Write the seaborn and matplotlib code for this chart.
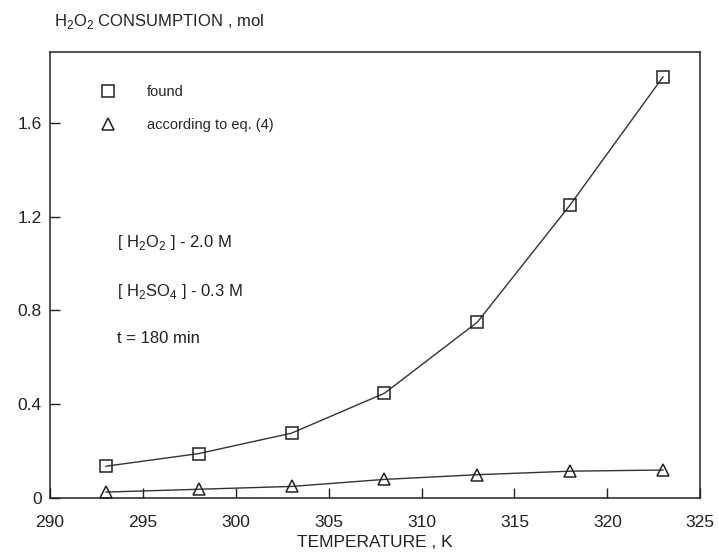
import numpy as np
import pandas as pd
import matplotlib
matplotlib.use("Agg")
import matplotlib.pyplot as plt
import seaborn as sns

# ── Data ─────────────────────────────────────────────────────────────────────
temperature = [293, 298, 303, 308, 313, 318, 323]
found       = [0.136, 0.19, 0.277, 0.447, 0.75, 1.25, 1.796]
eq4         = [0.026, 0.038, 0.05, 0.08, 0.10, 0.115, 0.12]
x_ticks     = [290, 295, 300, 305, 310, 315, 320, 325]
y_ticks     = [0, 0.4, 0.8, 1.2, 1.6]
y_ticklabels = ["0", "0.4", "0.8", "1.2", "1.6"]

df = pd.DataFrame({
    "T": temperature * 2,
    "val": found + eq4,
    "series": ["found"] * len(found) + ["according to eq. (4)"] * len(eq4),
})

sns.set_style("ticks")
plt.rcParams["font.family"] = ["Liberation Sans", "DejaVu Sans"]
plt.rcParams["mathtext.fontset"] = "custom"
plt.rcParams["mathtext.rm"] = "Liberation Sans"

fig = plt.figure(figsize=(7.19, 5.56), dpi=100)
ax = fig.add_axes([0.0695, 0.104, 0.9045, 0.802])

sns.lineplot(data=df, x="T", y="val", hue="series", style="series",
             markers={"found": "s", "according to eq. (4)": "^"},
             dashes=False, palette={"found": "#333333", "according to eq. (4)": "#333333"},
             markersize=9, markerfacecolor="none", markeredgecolor="#222222",
             markeredgewidth=1.1, linewidth=1.0, ax=ax)

ax.set_xlim(290, 325)
ax.set_ylim(0, 1.9)
ax.set_xticks(x_ticks)
ax.set_yticks(y_ticks)
ax.set_yticklabels(y_ticklabels)
ax.tick_params(direction="in", length=7, width=1, labelsize=12.5, colors="#222222")
ax.tick_params(axis="x", pad=12)
ax.tick_params(axis="y", pad=6)
for s in ax.spines.values():
    s.set_linewidth(1.1)
    s.set_color("#222222")

ax.set_xlabel("TEMPERATURE , K", fontsize=12.5, color="#222222", labelpad=4)
ax.set_ylabel("")
fig.text(0.075, 0.962, r"H$_{2}$O$_{2}$ CONSUMPTION , mol", fontsize=12,
         color="#222222", ha="left", va="center")

leg = ax.legend(loc="upper left", frameon=False, fontsize=10.5,
                bbox_to_anchor=(0.055, 0.955), handlelength=1.2,
                handletextpad=2.1, labelspacing=1.3)
for h in leg.legend_handles:
    h.set_linestyle("none")

ax.text(293.6, 1.07, r"[ H$_2$O$_2$ ] - 2.0 M", fontsize=12, color="#222222")
ax.text(293.6, 0.86, r"[ H$_2$SO$_4$ ] - 0.3 M", fontsize=12, color="#222222")
ax.text(293.6, 0.66, "t = 180 min", fontsize=12, color="#222222")

fig.savefig("out.png", dpi=100)
